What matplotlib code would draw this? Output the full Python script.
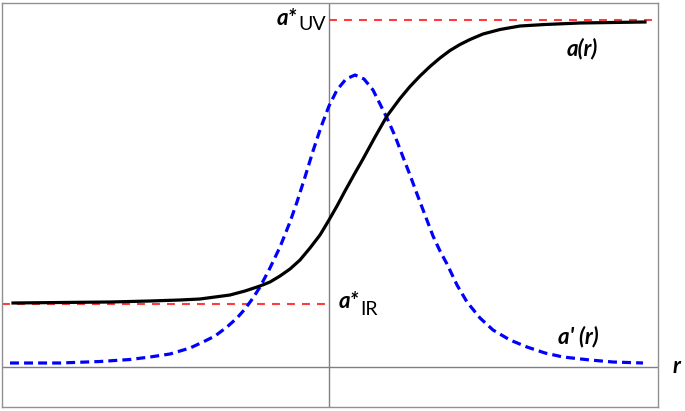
import matplotlib
matplotlib.use("Agg")
import matplotlib.pyplot as plt

# a(r): running coupling (arbitrary units)
r_a = [-31.6, -26.9, -21.9, -17.9, -14.9, -12.9, -11.4, -9.9, -8.4, -6.9,
       -5.9, -4.9, -3.9, -2.9, -1.9, -0.9, 0.0, 0.8, 1.6, 2.6,
       3.4, 4.6, 5.8, 7.1, 8.1, 9.1, 10.1, 11.1, 12.1, 13.1,
       14.1, 15.4, 17.1, 19.1, 21.6, 25.1, 31.6]
a_vals = [6.4, 6.45, 6.5, 6.6, 6.7, 6.8, 7.0, 7.2, 7.6, 8.1,
          8.5, 9.1, 9.8, 10.7, 11.9, 13.2, 14.7, 16.1, 17.6, 19.4,
          20.8, 23.0, 25.1, 26.85, 28.05, 29.1, 30.05, 30.9, 31.65, 32.25,
          32.75, 33.3, 33.75, 34.1, 34.25, 34.4, 34.5]

# a'(r): derivative curve
r_d = [-31.9, -26.9, -22.9, -19.9, -17.9, -15.9, -13.9, -12.6, -11.4, -10.2,
       -9.2, -8.4, -7.6, -6.9, -5.9, -4.9, -3.9, -3.2, -2.4, -1.6,
       -0.8, 0.0, 0.8, 1.7, 2.6, 3.5, 4.4, 5.2, 5.8, 6.6,
       7.4, 8.1, 8.8, 9.6, 10.4, 11.1, 11.8, 12.8, 13.8, 15.1,
       16.4, 18.1, 19.8, 21.6, 23.4, 26.1, 28.4, 31.4]
d_vals = [0.4, 0.4, 0.55, 0.75, 1.0, 1.3, 1.9, 2.5, 3.1, 4.0,
          4.9, 5.8, 6.9, 8.0, 9.9, 12.0, 14.5, 16.5, 19.0, 21.6,
          24.0, 26.1, 27.7, 28.8, 29.2, 28.8, 27.7, 26.1, 24.9, 23.1,
          21.0, 19.2, 17.3, 15.2, 13.1, 11.6, 10.3, 8.2, 6.5, 4.9,
          3.7, 2.7, 2.0, 1.4, 1.0, 0.7, 0.5, 0.4]

a_ir = 6.3
a_uv = 34.7

fig = plt.figure(figsize=(6.85, 4.11), dpi=100)
ax = fig.add_axes([2 / 685, 4 / 411, 656 / 685, 404 / 411])
ax.set_xlim(-32.7, 32.9)
ax.set_ylim(-4.0, 36.4)
ax.set_xticks([])
ax.set_yticks([])
for s in ax.spines.values():
    s.set_color("#909090")
    s.set_linewidth(1.0)

# axes through the origin
ax.axhline(0, color="#808080", lw=1.0)
ax.axvline(0, color="#808080", lw=1.0)

# asymptotes
ax.plot([-32.7, 0], [a_ir, a_ir], color="#ff3b3b", lw=1.5, dashes=(3.8, 3.4))
ax.plot([0, 32.6], [a_uv, a_uv], color="#ff3b3b", lw=1.5, dashes=(3.8, 3.4))

ax.plot(r_d, d_vals, color="#0000ff", lw=2.3, dashes=(2.8, 1.6))
ax.plot(r_a, a_vals, color="black", lw=2.3, solid_joinstyle="round")

bi = dict(family="Lato", weight="bold", style="italic", fontsize=16,
          va="baseline", ha="left")
rg = dict(family="Lato", fontsize=14, va="baseline", ha="left")

ax.text(-5.2, 34.2, "a*", **bi)
ax.text(-3.1, 33.7, "UV", **rg)
ax.text(1.0, 5.9, "a*", **bi)
ax.text(3.1, 5.2, "IR", **rg)
ax.text(23.8, 31.2, "a(r)", **bi)
ax.text(22.9, 2.4, "a' (r)", **bi)
ax.text(34.4, -0.6, "r", clip_on=False, **bi)

fig.savefig("out.png", dpi=100)
